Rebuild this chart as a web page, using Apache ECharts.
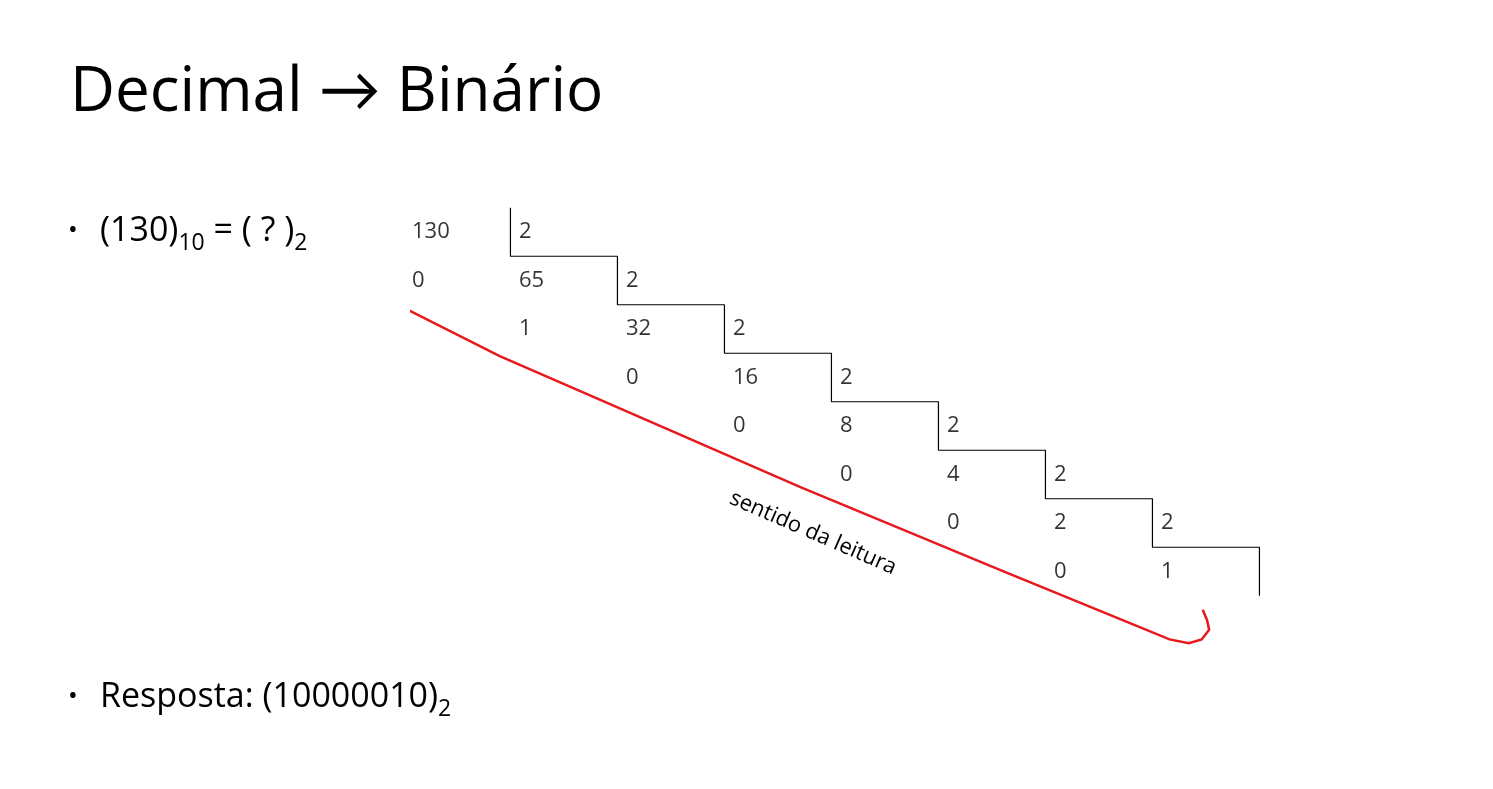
<!DOCTYPE html>
<html>
<head>
<meta charset="utf-8">
<script src="https://cdn.jsdelivr.net/npm/echarts@6/dist/echarts.min.js"></script>
<style>html,body{margin:0;padding:0;background:#fff}#main{width:1493px;height:789px}</style>
</head>
<body>
<div id="main"></div>
<script>
// quotients of 130 divided by 2, step by step
var dividends = [130, 65, 32, 16, 8, 4, 2, 1];
var divisor = 2;
var remainders = [0, 1, 0, 0, 0, 0, 0];
// red reading arrow, in column/row units
var arrowPath = [[7.39, 7.79], [7.43, 8.0], [7.45, 8.2], [7.38, 8.4], [7.26, 8.48], [7.08, 8.4], [5.5, 6.97], [3.63, 5.26], [1.76, 3.46], [0.82, 2.56], [-0.08, 1.56]];

var font = 'Open Sans, Lato, sans-serif';
var numbers = [];
dividends.forEach(function (d, i) {
  numbers.push([i, i, String(d)]);
  if (i < dividends.length - 1) numbers.push([i + 1, i, String(divisor)]);
});
remainders.forEach(function (r, i) { numbers.push([i, i + 1, String(r)]); });

var stair = [[0.92, -0.5]];
for (var i = 0; i < dividends.length - 1; i++) {
  stair.push([i + 0.92, i + 0.5]);
  stair.push([i + 1.92, i + 0.5]);
}
stair.push([dividends.length - 0.08, dividends.length - 0.5]);

var chart = echarts.init(document.getElementById('main'));
chart.setOption({
  animation: false,
  grid: { left: 412, top: 183.5, width: 856, height: 485 },
  xAxis: { type: 'value', min: 0, max: 8, show: false },
  yAxis: { type: 'value', min: -1, max: 9, inverse: true, show: false },
  graphic: [
    { type: 'text', left: 70, top: 62, style: { text: 'Decimal \u2192 Binário', font: '62px ' + font, fill: '#000' } },
    { type: 'text', left: 68, top: 214, style: { text: '{b|\u2022}{n|(130)}{s|10}{n| = ( ? )}{s|2}', fill: '#000',
      rich: { b: { font: '26px ' + font, width: 32 }, n: { font: '34px ' + font }, s: { font: '23px ' + font, padding: [24, 0, 0, 0] } } } },
    { type: 'text', left: 68, top: 680, style: { text: '{b|\u2022}{n|Resposta: (10000010)}{s|2}', fill: '#000',
      rich: { b: { font: '26px ' + font, width: 32 }, n: { font: '34px ' + font }, s: { font: '23px ' + font, padding: [24, 0, 0, 0] } } } },
    { type: 'text', x: 813, y: 533, rotation: -0.41, style: { text: 'sentido da leitura', font: '22px ' + font, fill: '#000', align: 'center', verticalAlign: 'middle' } }
  ],
  series: [
    { type: 'scatter', symbolSize: 0, data: numbers,
      label: { show: true, position: 'right', distance: 0, formatter: function (p) { return p.data[2]; }, fontFamily: font, fontSize: 22, color: '#000' } },
    { type: 'line', data: stair, symbol: 'none', lineStyle: { color: '#000', width: 1.2 } },
    { type: 'lines', coordinateSystem: 'cartesian2d', polyline: true,
      lineStyle: { color: '#e8181c', width: 2.5, opacity: 1 },
      data: [{ coords: arrowPath }] },
    { type: 'scatter', data: [arrowPath[arrowPath.length - 1]], symbol: 'triangle', symbolSize: [13, 15],
      symbolRotate: 66, itemStyle: { color: '#e8181c' } }
  ]
});
</script>
</body>
</html>
